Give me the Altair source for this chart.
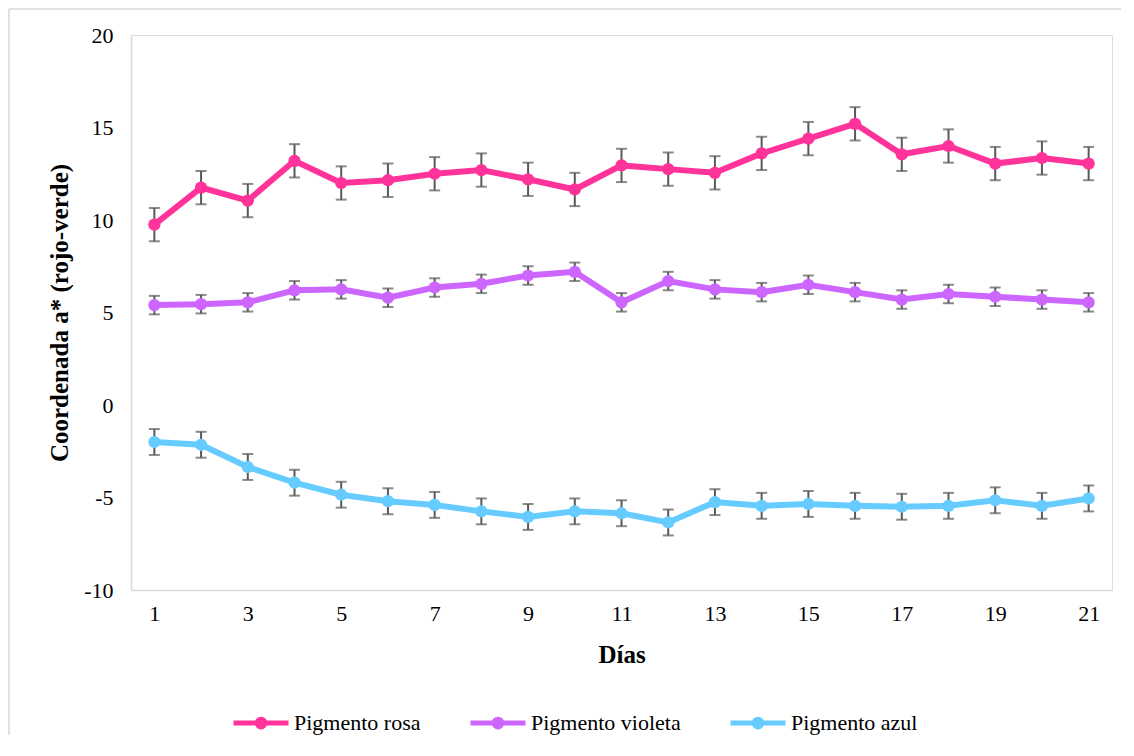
import altair as alt
import pandas as pd

dias = list(range(1, 22))
series = ["Pigmento rosa", "Pigmento violeta", "Pigmento azul"]
colores = ["#FF3399", "#CC66FF", "#66CCFF"]

rosa = [9.75, 11.75, 11.05, 13.2, 12.0, 12.15, 12.5, 12.7, 12.2, 11.65, 12.95,
        12.75, 12.55, 13.6, 14.4, 15.2, 13.55, 14.0, 13.05, 13.35, 13.05]
violeta = [5.4, 5.45, 5.55, 6.2, 6.25, 5.8, 6.35, 6.55, 7.0, 7.2, 5.55,
           6.7, 6.25, 6.1, 6.5, 6.1, 5.7, 6.0, 5.85, 5.7, 5.55]
azul = [-2.0, -2.15, -3.35, -4.2, -4.85, -5.2, -5.4, -5.75, -6.05, -5.75, -5.85,
        -6.35, -5.25, -5.45, -5.35, -5.45, -5.5, -5.45, -5.15, -5.45, -5.05]

err_rosa = [0.9, 0.9, 0.9, 0.9, 0.9, 0.9, 0.9, 0.9, 0.9, 0.9, 0.9,
            0.9, 0.9, 0.9, 0.9, 0.9, 0.9, 0.9, 0.9, 0.9, 0.9]
err_violeta = [0.5, 0.5, 0.5, 0.5, 0.5, 0.5, 0.5, 0.5, 0.5, 0.5, 0.5,
               0.5, 0.5, 0.5, 0.5, 0.5, 0.5, 0.5, 0.5, 0.5, 0.5]
err_azul = [0.7, 0.7, 0.7, 0.7, 0.7, 0.7, 0.7, 0.7, 0.7, 0.7, 0.7,
            0.7, 0.7, 0.7, 0.7, 0.7, 0.7, 0.7, 0.7, 0.7, 0.7]

x_ticks = [1, 3, 5, 7, 9, 11, 13, 15, 17, 19, 21]
y_ticks = [-10, -5, 0, 5, 10, 15, 20]

rows = []
for name, vals, errs in zip(series, [rosa, violeta, azul], [err_rosa, err_violeta, err_azul]):
    for d, v, e in zip(dias, vals, errs):
        rows.append({"dia": d, "serie": name, "valor": v, "lo": v - e, "hi": v + e})
df = pd.DataFrame(rows)

FONT = "Liberation Serif"
W, H = 981, 555
PAD_L, PAD_T, PAD_R, PAD_B = 123, 27, 10, 146

x_enc = alt.X(
    "dia:Q",
    scale=alt.Scale(domain=[0.5, 21.5], nice=False, zero=False),
    axis=alt.Axis(
        values=x_ticks, ticks=False, grid=False, domainColor="#d9d9d9", domainWidth=1.5,
        labelFont=FONT, labelFontSize=22, labelColor="#000000", labelPadding=13,
        title="Días", titleFont=FONT, titleFontSize=25, titleFontWeight="bold",
        titleColor="#000000", titleY=64, titleBaseline="middle",
    ),
)
y_axis = alt.Axis(
    values=y_ticks, ticks=False, grid=False, domainColor="#d9d9d9", domainWidth=1.5,
    labelFont=FONT, labelFontSize=22, labelColor="#000000", labelPadding=18,
    labelExpr="'' + datum.value",
    title="Coordenada a* (rojo-verde)", titleFont=FONT, titleFontSize=25,
    titleFontWeight="bold", titleColor="#000000", titleX=-72, titleY=H / 2,
    titleAlign="center", titleBaseline="middle", titleAngle=270,
)
y_scale = alt.Scale(domain=[-10, 20], nice=False, zero=False)

legend_path = ("M-1,0L1,0"
               "M-0.14,0A0.14,0.14 0 1,0 0.14,0A0.14,0.14 0 1,0 -0.14,0"
               "M-0.05,0A0.05,0.05 0 1,0 0.05,0A0.05,0.05 0 1,0 -0.05,0")
legend = alt.Legend(
    title=None, orient="none", direction="horizontal", legendX=100, legendY=658,
    symbolType=legend_path, symbolSize=3025, symbolStrokeWidth=5, symbolOpacity=1,
    labelFont=FONT, labelFontSize=22, labelColor="#000000", labelOffset=3,
    columnPadding=39,
)
color_enc = alt.Color("serie:N", scale=alt.Scale(domain=series, range=colores),
                      sort=series, legend=legend)

base = alt.Chart(df)

rules = base.mark_rule(color="#595959", strokeWidth=2).encode(
    x=x_enc, y=alt.Y("lo:Q", scale=y_scale, axis=y_axis), y2="hi:Q")
cap_lo = base.mark_tick(orient="horizontal", size=11, thickness=2, color="#595959").encode(
    x=x_enc, y=alt.Y("lo:Q", scale=y_scale, axis=y_axis))
cap_hi = base.mark_tick(orient="horizontal", size=11, thickness=2, color="#595959").encode(
    x=x_enc, y=alt.Y("hi:Q", scale=y_scale, axis=y_axis))
lines = base.mark_line(strokeWidth=6).encode(
    x=x_enc, y=alt.Y("valor:Q", scale=y_scale, axis=y_axis), color=color_enc)
points = base.mark_circle(size=150, opacity=1).encode(
    x=x_enc, y=alt.Y("valor:Q", scale=y_scale, axis=y_axis), color=color_enc)

one = pd.DataFrame({"k": [0]})
frame_left = alt.Chart(one).mark_rule(color="#d9d9d9", strokeWidth=1.5, clip=False).encode(
    x=alt.value(-PAD_L + 1), y=alt.value(-PAD_T + 1), y2=alt.value(H + PAD_B - 1))
frame_top = alt.Chart(one).mark_rule(color="#d9d9d9", strokeWidth=1.5, clip=False).encode(
    x=alt.value(-PAD_L + 1), x2=alt.value(W + PAD_R - 1), y=alt.value(-PAD_T + 1))

chart = alt.layer(frame_left, frame_top, rules, cap_lo, cap_hi, lines, points).properties(
    width=W, height=H,
    autosize=alt.AutoSizeParams(type="none"),
    padding={"left": PAD_L, "top": PAD_T, "right": PAD_R, "bottom": PAD_B},
).configure_view(stroke=None).configure(background="white")

chart.save("out.html", embed_options={"renderer": "svg", "actions": False})
